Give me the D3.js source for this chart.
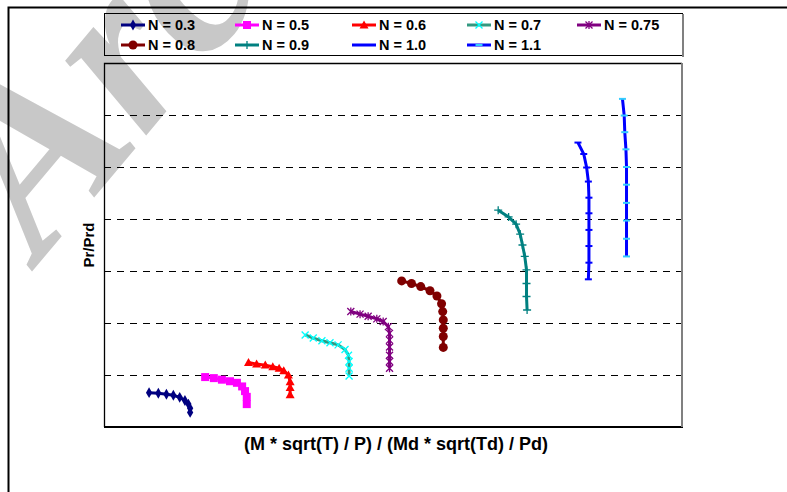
<!DOCTYPE html>
<html>
<head>
<meta charset="utf-8">
<script src="https://cdn.jsdelivr.net/npm/d3@7"></script>
<style>
  body { margin: 0; background: #fff; }
  .sans { font-family: Arial, "Liberation Sans", sans-serif; }
</style>
</head>
<body>
<div id="chart"></div>
<script>
// series labels and values (no tick labels on either axis in the source)
const seriesNames = ['N = 0.3', 'N = 0.5', 'N = 0.6', 'N = 0.7', 'N = 0.75', 'N = 0.8', 'N = 0.9', 'N = 1.0', 'N = 1.1'];

const xN03 = [0.78, 0.94, 1.08, 1.20, 1.31, 1.40, 1.46, 1.49, 1.49];
const yN03 = [0.66, 0.65, 0.63, 0.61, 0.57, 0.51, 0.44, 0.36, 0.28];
const xN05 = [1.75, 1.90, 2.04, 2.18, 2.30, 2.39, 2.44, 2.47, 2.47];
const yN05 = [0.96, 0.94, 0.91, 0.88, 0.85, 0.78, 0.69, 0.58, 0.44];
const xN06 = [2.50, 2.64, 2.79, 2.92, 3.03, 3.11, 3.19, 3.22, 3.22, 3.22];
const yN06 = [1.24, 1.21, 1.19, 1.16, 1.13, 1.08, 1.00, 0.87, 0.76, 0.62];
const xN07 = [3.48, 3.62, 3.77, 3.91, 4.05, 4.17, 4.23, 4.24, 4.24, 4.24];
const yN07 = [1.77, 1.71, 1.66, 1.62, 1.58, 1.49, 1.38, 1.26, 1.13, 0.98];
const xN075 = [4.27, 4.43, 4.57, 4.72, 4.83, 4.92, 4.94, 4.94, 4.94, 4.94, 4.94, 4.94];
const yN075 = [2.22, 2.17, 2.13, 2.08, 2.03, 1.93, 1.80, 1.67, 1.54, 1.38, 1.26, 1.13];
const xN08 = [5.15, 5.32, 5.48, 5.64, 5.76, 5.84, 5.86, 5.87, 5.87, 5.87, 5.87];
const yN08 = [2.81, 2.76, 2.70, 2.62, 2.52, 2.37, 2.22, 2.06, 1.90, 1.74, 1.53];
const xN09 = [6.82, 7.00, 7.13, 7.20, 7.24, 7.28, 7.31, 7.31, 7.31, 7.32];
const yN09 = [4.17, 4.04, 3.90, 3.71, 3.50, 3.28, 3.02, 2.76, 2.51, 2.25];
const xN10 = [8.20, 8.30, 8.35, 8.38, 8.39, 8.39, 8.39, 8.39, 8.39, 8.38];
const yN10 = [5.47, 5.25, 4.99, 4.72, 4.41, 4.11, 3.79, 3.48, 3.16, 2.84];
const xN11 = [8.97, 9.00, 9.01, 9.03, 9.04, 9.04, 9.04, 9.04, 9.04, 9.04];
const yN11 = [6.31, 5.99, 5.67, 5.34, 5.00, 4.66, 4.31, 3.97, 3.62, 3.28];

const gridValues = [1, 2, 3, 4, 5, 6];

const xValues = [xN03, xN05, xN06, xN07, xN075, xN08, xN09, xN10, xN11];
const yValues = [yN03, yN05, yN06, yN07, yN075, yN08, yN09, yN10, yN11];

// styling per series
const lineColors = ['#000080', '#ff00ff', '#ff0000', '#339980', '#800080', '#800000', '#008080', '#0000ff', '#0000ff'];
const markerColors = ['#000080', '#ff00ff', '#ff0000', '#00ffff', '#800080', '#800000', '#008080', '#0000ff', '#33ccff'];
const markerKinds = ['diamond', 'square', 'triangle', 'x', 'star', 'circle', 'plus', 'dash', 'dash'];

const series = seriesNames.map((name, i) => ({
  name,
  line: lineColors[i],
  mcol: markerColors[i],
  kind: markerKinds[i],
  points: xValues[i].map((x, j) => ({ x, y: yValues[i][j] }))
}));

const width = 787, height = 492;
const plot = { left: 104, right: 682, top: 63, bottom: 427 };

const svg = d3.select('#chart')
  .append('svg')
  .attr('width', width)
  .attr('height', height);

// watermark behind everything
svg.append('text')
  .attr('transform', 'translate(40,262) rotate(-50)')
  .style('font-family', '"Liberation Serif", "DejaVu Serif", serif')
  .style('font-style', 'italic')
  .style('font-weight', 'bold')
  .attr('font-size', 240)
  .attr('fill', '#c8c8c8')
  .text('Archive');

// outer frame (only top and left visible)
svg.append('path')
  .attr('d', `M8.5,${height} V7.5 H${width}`)
  .attr('fill', 'none')
  .attr('stroke', '#000')
  .attr('stroke-width', 2);

const x = d3.scaleLinear().domain([0, 10]).range([plot.left, plot.right]);
const y = d3.scaleLinear().domain([0, 7]).range([plot.bottom, plot.top]);

// dashed gridlines
svg.append('g')
  .selectAll('line')
  .data(gridValues)
  .join('line')
    .attr('x1', plot.left)
    .attr('x2', plot.right)
    .attr('y1', d => Math.round(y(d)) + 0.5)
    .attr('y2', d => Math.round(y(d)) + 0.5)
    .attr('stroke', '#000')
    .attr('stroke-width', 1)
    .attr('stroke-dasharray', '7,6');

// plot area border: black top/left, thick bottom, grey right
svg.append('path')
  .attr('d', `M${plot.left + 0.5},${plot.bottom} V${plot.top + 0.5} H${plot.right}`)
  .attr('fill', 'none').attr('stroke', '#000').attr('stroke-width', 1.3);
svg.append('line')
  .attr('x1', plot.left).attr('x2', plot.right + 1)
  .attr('y1', plot.bottom).attr('y2', plot.bottom)
  .attr('stroke', '#000').attr('stroke-width', 2.2);
svg.append('line')
  .attr('x1', plot.right).attr('x2', plot.right)
  .attr('y1', plot.top).attr('y2', plot.bottom)
  .attr('stroke', '#808080').attr('stroke-width', 2);

const line = d3.line().x(d => x(d.x)).y(d => y(d.y));

function drawMarker(g, kind, color) {
  if (kind === 'diamond') {
    g.append('path').attr('d', d3.symbol(d3.symbolDiamond, 34)()).attr('fill', color);
  } else if (kind === 'square') {
    g.append('rect').attr('x', -4).attr('y', -4).attr('width', 8).attr('height', 8).attr('fill', color);
  } else if (kind === 'triangle') {
    g.append('path').attr('d', 'M0,-4.5 L4.5,3.5 L-4.5,3.5 Z').attr('fill', color);
  } else if (kind === 'circle') {
    g.append('circle').attr('r', 4.5).attr('fill', color);
  } else if (kind === 'x') {
    g.append('path').attr('d', 'M-3.5,-3.5 L3.5,3.5 M-3.5,3.5 L3.5,-3.5')
      .attr('stroke', color).attr('stroke-width', 1.3);
  } else if (kind === 'star') {
    g.append('path').attr('d', 'M-3.5,-3.5 L3.5,3.5 M-3.5,3.5 L3.5,-3.5 M0,-4 V4')
      .attr('stroke', color).attr('stroke-width', 1.3);
  } else if (kind === 'plus') {
    g.append('path').attr('d', 'M-4,0 H4 M0,-4 V4')
      .attr('stroke', color).attr('stroke-width', 1.3);
  } else if (kind === 'dash') {
    g.append('path').attr('d', 'M-3.5,0 H3.5')
      .attr('stroke', color).attr('stroke-width', 2);
  }
}

const seriesGroups = svg.append('g')
  .selectAll('g')
  .data(series)
  .join('g');

seriesGroups.append('path')
  .attr('d', d => line(d.points))
  .attr('fill', 'none')
  .attr('stroke', d => d.line)
  .attr('stroke-width', 3);

seriesGroups.each(function (s) {
  d3.select(this).selectAll('g.m')
    .data(s.points)
    .join('g')
      .attr('class', 'm')
      .attr('transform', d => `translate(${x(d.x)},${y(d.y)})`)
      .each(function () { drawMarker(d3.select(this), s.kind, s.mcol); });
});

// legend
const legend = svg.append('g');
legend.append('rect')
  .attr('x', 104.5).attr('y', 13.5)
  .attr('width', 578).attr('height', 42)
  .attr('fill', 'none').attr('stroke', '#000').attr('stroke-width', 1);
legend.append('line')
  .attr('x1', 683).attr('x2', 683).attr('y1', 14).attr('y2', 57)
  .attr('stroke', '#808080').attr('stroke-width', 2);

const colX = [121, 235, 352, 467, 577];
const rowY = [25, 45];

const items = legend.selectAll('g.item')
  .data(series)
  .join('g')
    .attr('class', 'item')
    .attr('transform', (d, i) => `translate(${colX[i % 5]},${rowY[Math.floor(i / 5)]})`);

items.append('line')
  .attr('x1', 0).attr('x2', 24)
  .attr('stroke', d => d.line)
  .attr('stroke-width', 3);

items.append('g')
  .attr('transform', 'translate(12,0)')
  .each(function (d) { drawMarker(d3.select(this), d.kind, d.mcol); });

items.append('text')
  .attr('class', 'sans')
  .attr('x', 27)
  .attr('y', 5)
  .attr('font-size', 14.5)
  .attr('font-weight', 'bold')
  .text(d => d.name);

// axis titles
svg.append('text')
  .attr('class', 'sans')
  .attr('transform', `translate(94,${(plot.top + plot.bottom) / 2}) rotate(-90)`)
  .attr('text-anchor', 'middle')
  .attr('font-size', 15)
  .attr('font-weight', 'bold')
  .text('Pr/Prd');

svg.append('text')
  .attr('class', 'sans')
  .attr('x', 396)
  .attr('y', 450)
  .attr('text-anchor', 'middle')
  .attr('font-size', 18)
  .attr('font-weight', 'bold')
  .text('(M * sqrt(T) / P) / (Md * sqrt(Td) / Pd)');
</script>
</body>
</html>
